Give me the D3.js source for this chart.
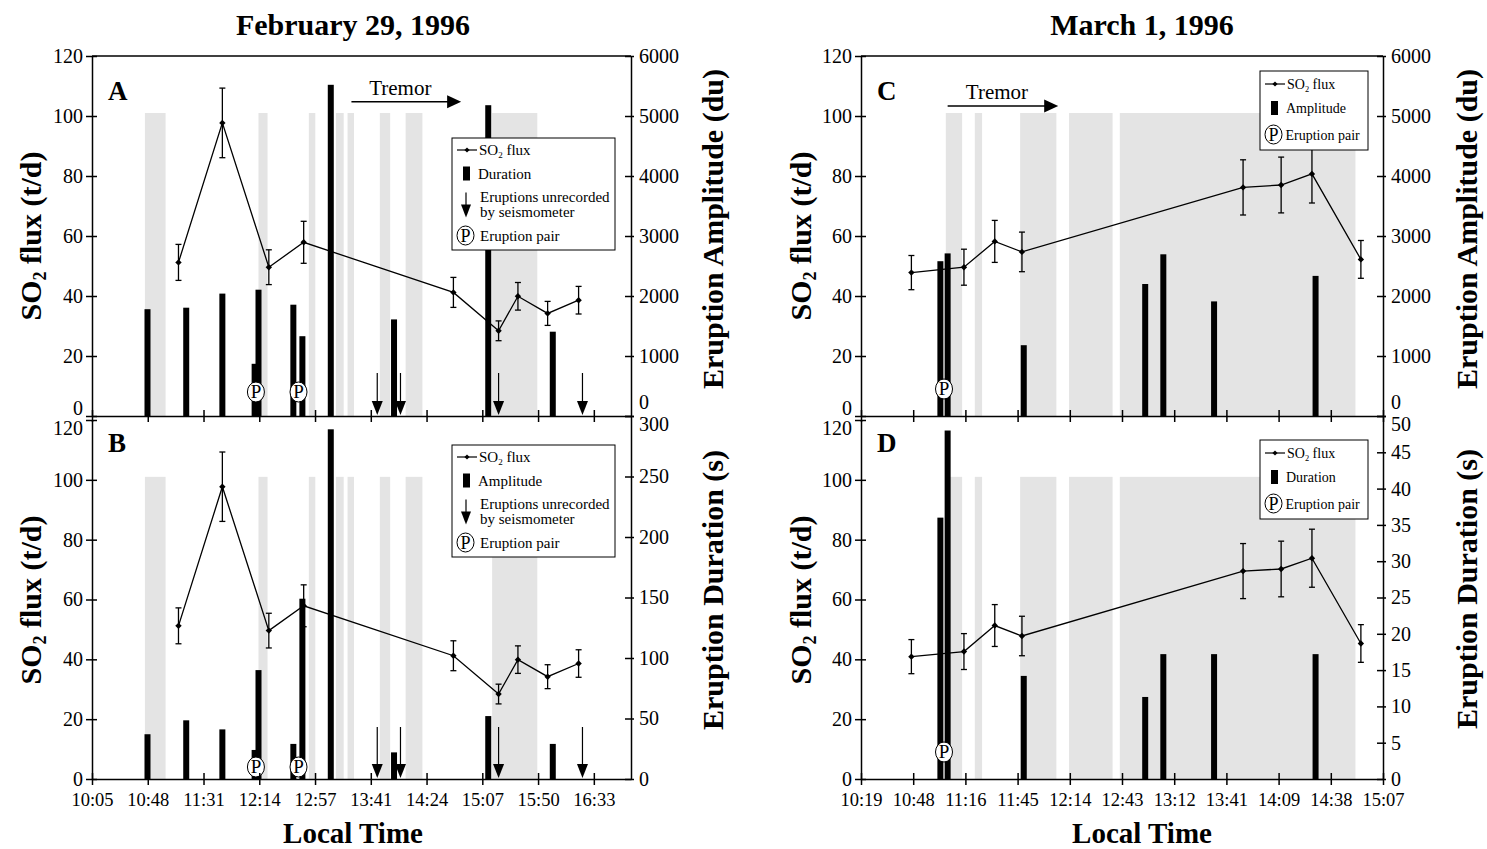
<!DOCTYPE html>
<html>
<head>
<meta charset="utf-8">
<script src="https://cdnjs.cloudflare.com/ajax/libs/d3/7.8.5/d3.min.js"></script>
<style>
body { margin: 0; background: #fff; }
svg { font-family: "Liberation Serif", "DejaVu Serif", serif; }
</style>
</head>
<body>
<svg id="chart" width="1487" height="849"></svg>
<script>
// February 29, 1996
var febTicks = ["10:05", "10:48", "11:31", "12:14", "12:57", "13:41", "14:24", "15:07", "15:50", "16:33"];
var febSo2Times = ["11:12", "11:46", "12:22", "12:49", "14:45", "15:20", "15:35", "15:58", "16:22"];
var febSo2 = [51.2, 97.7, 49.6, 57.9, 41.2, 28.4, 39.9, 34.2, 38.6];
var febSo2Err = [6, 11.6, 5.8, 7, 5, 3.3, 4.6, 4, 4.6];
var febEruptTimes = ["10:48", "11:18", "11:46", "12:11", "12:14", "12:41", "12:48", "13:10", "13:59", "15:12", "16:02"];
var febAmplitude = [1780, 1805, 2040, 870, 2105, 1855, 1330, 5520, 1610, 5180, 1405];
var febDuration = [37, 48.5, 41, 24, 90, 29, 149, 289, 22, 52, 29];
var febUnrecorded = ["13:46", "14:04", "15:20", "16:25"];
var febPairs = ["12:12", "12:45"];
var febShade = [["10:46", "11:02"], ["12:14", "12:21"], ["12:53", "12:58"], ["13:14", "13:20"],
                ["13:23", "13:28"], ["13:48", "13:56"], ["14:08", "14:21"], ["15:15", "15:50"]];
var febTremor = ["13:26", "14:51"];

// March 1, 1996
var marTicks = ["10:19", "10:48", "11:16", "11:45", "12:14", "12:43", "13:12", "13:41", "14:09", "14:38", "15:07"];
var marSo2Times = ["10:47", "11:16", "11:33", "11:48", "13:50", "14:11", "14:28", "14:55"];
var marSo2C = [47.8, 49.6, 58.2, 54.7, 76.2, 77, 80.7, 52.2];
var marSo2D = [40.9, 42.6, 51.3, 47.8, 69.5, 70.2, 73.8, 45.3];
var marSo2Err = [5.7, 6, 7, 6.6, 9.2, 9.3, 9.7, 6.3];
var marEruptTimes = ["11:03", "11:07", "11:49", "12:56", "13:06", "13:34", "14:30"];
var marAmplitude = [2580, 2710, 1180, 2200, 2695, 1910, 2335];
var marDuration = [36, 48, 14.2, 11.3, 17.2, 17.2, 17.2];
var marPairs = ["11:05"];
var marShade = [["11:06", "11:15"], ["11:22", "11:26"], ["11:47", "12:07"], ["12:14", "12:38"], ["12:42", "14:52"]];
var marTremor = ["11:07", "12:08"];

var so2Ticks = d3.range(0, 121, 20);
var ampTicks = d3.range(0, 6001, 1000);
var febDurTicks = d3.range(0, 301, 50);
var marDurTicks = d3.range(0, 51, 5);
var shadeTop = 101;

var svg = d3.select("#chart");
var FONT = "Liberation Serif, DejaVu Serif, serif";

function toMin(s) { var p = s.split(":"); return +p[0] * 60 + +p[1]; }

var febX = d3.scaleLinear().domain([605, 605 + 417.6]).range([92, 631]);
var marX = d3.scaleLinear().domain([619.2, 619.2 + 288]).range([861, 1383]);
var topY = d3.scaleLinear().domain([0, 120]).range([416, 56]);
var botY = d3.scaleLinear().domain([0, 120]).range([779, 420]);
var ampY = d3.scaleLinear().domain([0, 6000]).range([416, 56]);
var febDurY = d3.scaleLinear().domain([0, 300]).range([779, 416]);
var marDurY = d3.scaleLinear().domain([0, 50]).range([779, 416]);

function so2Text(t, big) {
  t.append("tspan").text("SO");
  t.append("tspan").attr("font-size", "0.6em").attr("dy", "0.3em").text("2");
  t.append("tspan").attr("dy", "-0.18em").text(" flux" + (big ? " (t/d)" : ""));
}

function arrowDown(g, x, yTop, yTip, hw, hl) {
  g.append("line").attr("x1", x).attr("x2", x).attr("y1", yTop).attr("y2", yTip - hl + 1)
    .attr("stroke", "#000").attr("stroke-width", 1.2);
  g.append("path").attr("d", "M" + (x - hw) + "," + (yTip - hl) + "L" + (x + hw) + "," + (yTip - hl) + "L" + x + "," + yTip + "Z")
    .attr("fill", "#000");
}

function pairMark(g, x, y, rx, ry, fs) {
  g.append("ellipse").attr("cx", x).attr("cy", y).attr("rx", rx).attr("ry", ry)
    .attr("fill", "#fff").attr("stroke", "#000").attr("stroke-width", 1);
  g.append("text").attr("x", x).attr("y", y + fs * 0.34).attr("text-anchor", "middle")
    .attr("font-size", fs).text("P");
}

function drawLegend(g, lg) {
  var lx = lg.x, ly = lg.y, fs = lg.fs;
  g.append("rect").attr("x", lx).attr("y", ly).attr("width", lg.w).attr("height", lg.h)
    .attr("fill", "#fff").attr("stroke", "#000").attr("stroke-width", 1);
  lg.rows.forEach(function (r) {
    var cy = ly + r.dy;
    if (r.kind === "so2") {
      g.append("line").attr("x1", lx + 5).attr("x2", lx + 25).attr("y1", cy).attr("y2", cy)
        .attr("stroke", "#000").attr("stroke-width", 1.2);
      g.append("path").attr("d", "M0,-2.6L2.6,0L0,2.6L-2.6,0Z").attr("transform", "translate(" + (lx + 15) + "," + cy + ")");
      so2Text(g.append("text").attr("x", lx + 27).attr("y", cy + 5).attr("font-size", fs), false);
    } else if (r.kind === "bar") {
      g.append("rect").attr("x", lx + 11).attr("y", cy - 7).attr("width", 7).attr("height", 14);
      g.append("text").attr("x", lx + 26).attr("y", cy + 5).attr("font-size", fs).text(r.text);
    } else if (r.kind === "arrow") {
      arrowDown(g, lx + 14, cy - 12, cy + 13, 5, 13);
      g.append("text").attr("x", lx + 28).attr("y", cy - 3).attr("font-size", fs).text("Eruptions unrecorded");
      g.append("text").attr("x", lx + 28).attr("y", cy + 12).attr("font-size", fs).text("by seismometer");
    } else if (r.kind === "pair") {
      pairMark(g, lx + 13.5, cy, 8.5, 9.5, 18);
      g.append("text").attr("x", lx + lg.pairTextX).attr("y", cy + 5).attr("font-size", fs).text("Eruption pair");
    }
  });
}

function drawPanel(p) {
  var g = svg.append("g");
  var x = p.x, y = p.y, y2 = p.y2, base = y(0);
  var tx = function (s) { return x(toMin(s)); };
  var x0 = x.range()[0], x1 = x.range()[1];

  // shaded intervals
  g.selectAll("rect.shade").data(p.shade).enter().append("rect")
    .attr("class", "shade")
    .attr("x", function (d) { return tx(d[0]); })
    .attr("width", function (d) { return tx(d[1]) - tx(d[0]); })
    .attr("y", y(shadeTop)).attr("height", base - y(shadeTop))
    .attr("fill", "#e4e4e4");

  // eruption bars
  g.selectAll("rect.bar").data(p.bars).enter().append("rect")
    .attr("class", "bar")
    .attr("x", function (d, i) { return tx(p.barTimes[i]) - 3; })
    .attr("width", 6)
    .attr("y", function (d) { return y2(d); })
    .attr("height", function (d) { return y2(0) - y2(d); })
    .attr("fill", "#000");

  // SO2 flux line with error bars
  var pts = p.so2.map(function (v, i) { return {t: p.so2Times[i], v: v, e: p.err[i]}; });
  g.append("path").datum(pts)
    .attr("fill", "none").attr("stroke", "#000").attr("stroke-width", 1.3)
    .attr("d", d3.line().x(function (d) { return tx(d.t); }).y(function (d) { return y(d.v); }));
  var eb = g.selectAll("g.err").data(pts).enter().append("g")
    .attr("class", "err").attr("stroke", "#000").attr("stroke-width", 1.3);
  eb.append("line")
    .attr("x1", function (d) { return tx(d.t); }).attr("x2", function (d) { return tx(d.t); })
    .attr("y1", function (d) { return y(d.v + d.e); }).attr("y2", function (d) { return y(d.v - d.e); });
  [1, -1].forEach(function (s) {
    eb.append("line")
      .attr("x1", function (d) { return tx(d.t) - 3; }).attr("x2", function (d) { return tx(d.t) + 3; })
      .attr("y1", function (d) { return y(d.v + s * d.e); }).attr("y2", function (d) { return y(d.v + s * d.e); });
  });
  g.selectAll("path.pt").data(pts).enter().append("path")
    .attr("class", "pt")
    .attr("d", "M0,-3.2L3.2,0L0,3.2L-3.2,0Z")
    .attr("transform", function (d) { return "translate(" + tx(d.t) + "," + y(d.v) + ")"; });

  // unrecorded eruptions
  if (p.unrec) {
    p.unrec.forEach(function (t) { arrowDown(g, tx(t), base - p.arrowLen, base - 1, 5.5, 14); });
  }

  // eruption pairs
  p.pairs.forEach(function (t) { pairMark(g, tx(t), base - p.pairLift, 8.5, 10, 19); });

  // tremor annotation
  if (p.tremor) {
    var ta = tx(p.tremor[0]), tb = tx(p.tremor[1]);
    g.append("line").attr("x1", ta).attr("x2", tb - 12).attr("y1", p.tremorY).attr("y2", p.tremorY)
      .attr("stroke", "#000").attr("stroke-width", 1.5);
    g.append("path").attr("d", "M" + (tb - 14) + "," + (p.tremorY - 6.5) + "L" + tb + "," + p.tremorY + "L" + (tb - 14) + "," + (p.tremorY + 6.5) + "Z");
    g.append("text").attr("x", (ta + tb) / 2 - 6).attr("y", p.tremorY - 7)
      .attr("text-anchor", "middle").attr("font-size", 21).text("Tremor");
  }

  // panel letter
  g.append("text").attr("x", x0 + 16).attr("y", p.letterY).attr("font-size", 27)
    .attr("font-weight", "bold").text(p.letter);

  drawLegend(g, p.legend);

  // axes
  var yt = y.range()[1];
  if (p.topLine) {
    g.append("line").attr("x1", x0).attr("x2", x1).attr("y1", yt).attr("y2", yt)
      .attr("stroke", "#000").attr("stroke-width", 1.5);
  }

  var ax = g.append("g").attr("transform", "translate(0," + base + ")")
    .call(d3.axisBottom(x).tickValues(p.ticks.map(function (s, i) { return x.domain()[0] + i * p.step; }))
      .tickFormat(function (d, i) { return p.showLabels ? p.ticks[i] : ""; })
      .tickSize(6).tickSizeOuter(0).tickPadding(8));
  ax.selectAll(".tick line").attr("y1", -6);

  var al = g.append("g").attr("transform", "translate(" + x0 + ",0)")
    .call(d3.axisLeft(y).tickValues(so2Ticks).tickFormat(d3.format("d"))
      .tickSize(6).tickSizeOuter(0).tickPadding(3));
  al.selectAll(".tick line").attr("x1", 5);

  var ar = g.append("g").attr("transform", "translate(" + x1 + ",0)")
    .call(d3.axisRight(y2).tickValues(p.rTicks).tickFormat(d3.format("d"))
      .tickSize(3).tickSizeOuter(0).tickPadding(5));
  ar.selectAll(".tick line").attr("x1", -6);

  [ax, al, ar].forEach(function (a) {
    a.attr("font-family", FONT).attr("font-size", 20);
    a.selectAll("path, line").attr("stroke", "#000").attr("stroke-width", 1.5);
    a.selectAll("text").attr("fill", "#000");
  });
  ax.selectAll("text").attr("font-size", 18.5);

  // nudge labels at the shared boundary between the stacked panels
  if (p.isTop) {
    al.selectAll(".tick text").filter(function (d) { return d === 0; }).attr("dy", "-0.1em");
    ar.selectAll(".tick text").filter(function (d) { return d === 0; }).attr("dy", "-0.36em");
  } else {
    al.selectAll(".tick text").filter(function (d) { return d === 120; }).attr("dy", "0.7em");
    ar.selectAll(".tick text").filter(function (d, i, n) { return i === n.length - 1; }).attr("dy", "0.72em");
  }

  // axis titles
  var lt = g.append("text").attr("transform", "translate(" + p.leftTitleX + "," + p.leftTitleY + ") rotate(-90)")
    .attr("text-anchor", "middle").attr("dy", "0.35em").attr("font-size", 30).attr("font-weight", "bold");
  so2Text(lt, true);
  g.append("text").attr("transform", "translate(" + p.rightTitleX + "," + p.rightTitleY + ") rotate(-90)")
    .attr("text-anchor", "middle").attr("dy", "0.35em").attr("font-size", 30).attr("font-weight", "bold")
    .text(p.rightTitle);
}

var legend4 = function (lx, ly, barText) {
  return {x: lx, y: ly, w: 163, h: 112, fs: 15, pairTextX: 28, rows: [
    {kind: "so2", dy: 12}, {kind: "bar", text: barText, dy: 35.5},
    {kind: "arrow", dy: 66.5}, {kind: "pair", dy: 97.5}]};
};
var legend3 = function (lx, ly, barText) {
  return {x: lx, y: ly, w: 108, h: 79, fs: 14, pairTextX: 25.5, rows: [
    {kind: "so2", dy: 13}, {kind: "bar", text: barText, dy: 37}, {kind: "pair", dy: 63.5}]};
};

drawPanel({x: febX, y: topY, y2: ampY, rTicks: ampTicks, shade: febShade,
  barTimes: febEruptTimes, bars: febAmplitude, so2Times: febSo2Times, so2: febSo2, err: febSo2Err,
  unrec: febUnrecorded, arrowLen: 43, pairs: febPairs, pairLift: 24, tremor: febTremor, tremorY: 101.7,
  letter: "A", letterY: 100, legend: legend4(452, 138, "Duration"), topLine: true, isTop: true,
  ticks: febTicks, step: 43.2, showLabels: false,
  leftTitleX: 30, leftTitleY: 236, rightTitleX: 712, rightTitleY: 229, rightTitle: "Eruption Amplitude (du)"});

drawPanel({x: febX, y: botY, y2: febDurY, rTicks: febDurTicks, shade: febShade,
  barTimes: febEruptTimes, bars: febDuration, so2Times: febSo2Times, so2: febSo2, err: febSo2Err,
  unrec: febUnrecorded, arrowLen: 52, pairs: febPairs, pairLift: 12,
  letter: "B", letterY: 452, legend: legend4(452, 445, "Amplitude"), topLine: false, isTop: false,
  ticks: febTicks, step: 43.2, showLabels: true,
  leftTitleX: 30, leftTitleY: 600, rightTitleX: 712, rightTitleY: 590, rightTitle: "Eruption Duration (s)"});

drawPanel({x: marX, y: topY, y2: ampY, rTicks: ampTicks, shade: marShade,
  barTimes: marEruptTimes, bars: marAmplitude, so2Times: marSo2Times, so2: marSo2C, err: marSo2Err,
  pairs: marPairs, pairLift: 27, tremor: marTremor, tremorY: 106,
  letter: "C", letterY: 100, legend: legend3(1260, 71, "Amplitude"), topLine: true, isTop: true,
  ticks: marTicks, step: 28.8, showLabels: false,
  leftTitleX: 800, leftTitleY: 236, rightTitleX: 1466, rightTitleY: 229, rightTitle: "Eruption Amplitude (du)"});

drawPanel({x: marX, y: botY, y2: marDurY, rTicks: marDurTicks, shade: marShade,
  barTimes: marEruptTimes, bars: marDuration, so2Times: marSo2Times, so2: marSo2D, err: marSo2Err,
  pairs: marPairs, pairLift: 27,
  letter: "D", letterY: 452, legend: legend3(1260, 440, "Duration"), topLine: false, isTop: false,
  ticks: marTicks, step: 28.8, showLabels: true,
  leftTitleX: 800, leftTitleY: 600, rightTitleX: 1466, rightTitleY: 589, rightTitle: "Eruption Duration (s)"});

// titles
svg.append("text").attr("x", 353).attr("y", 35).attr("text-anchor", "middle")
  .attr("font-size", 30).attr("font-weight", "bold").text("February 29, 1996");
svg.append("text").attr("x", 1142).attr("y", 35).attr("text-anchor", "middle")
  .attr("font-size", 30).attr("font-weight", "bold").text("March 1, 1996");
svg.append("text").attr("x", 353).attr("y", 843).attr("text-anchor", "middle")
  .attr("font-size", 29).attr("font-weight", "bold").text("Local Time");
svg.append("text").attr("x", 1142).attr("y", 843).attr("text-anchor", "middle")
  .attr("font-size", 29).attr("font-weight", "bold").text("Local Time");
</script>
</body>
</html>
